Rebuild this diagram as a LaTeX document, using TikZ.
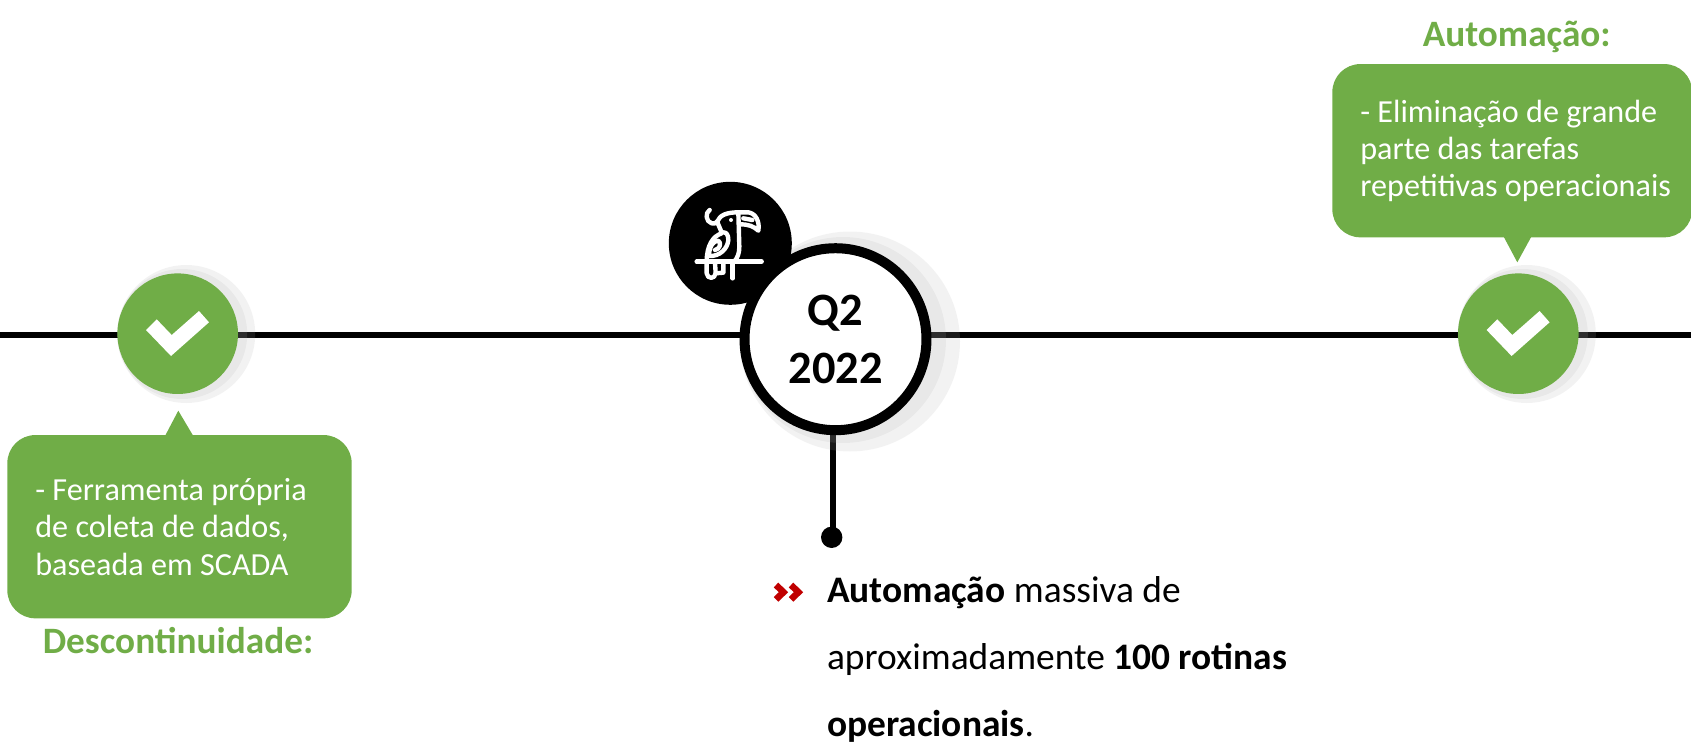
\documentclass[tikz,border=0pt]{standalone}
\usepackage{fontspec}
\setmainfont{Carlito}
\definecolor{ckgreen}{HTML}{70AD47}
\definecolor{ckred}{HTML}{C00000}
\begin{document}
\begin{tikzpicture}[x=0.02cm,y=-0.02cm]
	\tikzset{
		shadowdisc/.style={fill=black!33, fill opacity=0.15, draw=none},
		checknode/.style={circle, fill=ckgreen, minimum size=2.412cm, inner sep=0pt},
		bubble/.style={rectangle, rounded corners=0.56cm, fill=ckgreen, inner sep=0pt},
		bubbletext/.style={anchor=west, inner sep=0pt, text=white, align=left, font=\fontsize{18.3}{21.3}\selectfont},
		head/.style={anchor=base, inner sep=0pt, text=ckgreen, font=\fontsize{21.2}{25}\selectfont\bfseries},
		bodytext/.style={anchor=base west, inner sep=0pt, font=\fontsize{21.3}{25}\selectfont},
		parrot/.style={draw=white, line width=2.5pt, line cap=round, line join=round},
	}
	
	%% TIMELINE
	\coordinate (LineL) at (0,335);
	\coordinate (LineR) at (1691,335);
	\coordinate (QC) at (833.3,400);
	\node[circle, fill=black, minimum size=0.428cm, inner sep=0pt] (Dot) at (831.7,537.3) {};
	\draw[line width=0.13cm] (LineL) -- (LineR);
	\draw[line width=0.12cm] (QC) -- (QC |- Dot);
	
	%% SHADOWS
	\foreach \xx in {177.7,1518.3} {
		\fill[shadowdisc] (\xx+8.5,334) circle (69);
		\fill[shadowdisc] (\xx+4.5,334) circle (65);
	}
	\fill[shadowdisc] (850,341.5) circle (110);
	\fill[shadowdisc] (843,340) circle (103);
	
	%% ICON
	\node[circle, fill=black, minimum size=2.46cm, inner sep=0pt] (Icon) at (730.3,243.3) {};
	\begin{scope}[shift={(695,200)}, x=0.00667cm, y=-0.00667cm]
		\draw[parrot] (5,185) -- (200,185);
		\draw[parrot] (113,185) -- (113,235);
		\draw[parrot] (44,30) .. controls (30,38) and (32,65) .. (50,70) .. controls (58,72) and (63,70) .. (67,64);
		\draw[parrot] (67,64) .. controls (75,45) and (95,37) .. (130,37) -- (160,37) .. controls (182,40) and (195,65) .. (190,92) .. controls (175,78) and (160,73) .. (135,73);
		\draw[parrot] (145,55) -- (172,60);
		\draw[parrot] (130,37) -- (133,140) .. controls (133,160) and (128,172) .. (118,185);
		\draw[parrot] (67,64) .. controls (70,78) and (78,88) .. (80,100) .. controls (55,108) and (35,135) .. (35,185) -- (35,220) .. controls (37,238) and (60,238) .. (62,220) -- (60,187);
		\draw[parrot] (85,97) .. controls (95,97) and (100,105) .. (100,120) .. controls (98,145) and (75,170) .. (42,168);
		\draw[parrot] (42,168) .. controls (42,140) and (55,122) .. (70,122) .. controls (80,128) and (75,148) .. (60,150);
		\draw[parrot] (62,220) -- (85,218) -- (85,187);
		\fill[white] (108,60) circle (6);
	\end{scope}
	
	%% Q2 NODE
	\node[circle, draw=black, line width=0.2cm, fill=white, minimum size=3.64cm, inner sep=0pt, align=center, font=\fontsize{26.4}{32.8}\selectfont\bfseries] (Q) at (835.5,339.2) {Q2\\2022};
	
	%% CHECKS
	\foreach \name/\xx in {CheckA/177.7,CheckB/1518.3} {
		\node[checknode] (\name) at (\xx,333.7) {};
		\fill[white, shift={(\name.center)}] (-31.7,-3.7) -- (-21,-14.4) -- (-6,1.3) -- (21.3,-22.7) -- (31.3,-11.4) -- (-6.7,22.3) -- cycle;
	}
	
	%% BUBBLES
	\node[bubble, minimum width=6.888cm, minimum height=3.666cm] (BubA) at (179.5,526.7) {};
	\fill[ckgreen] (165,436) -- (178.3,410.7) -- (193.3,436) -- cycle;
	\node[bubbletext] (BubAText) at (35,526.7) {- Ferramenta própria\\de coleta de dados,\\baseada em SCADA};
	\node[head] (HeadA) at (178,653) {Descontinuidade:};
	
	\node[bubble, minimum width=7.2cm, minimum height=3.466cm] (BubB) at (1512.3,150.7) {};
	\fill[ckgreen] (1503.3,236) -- (1517.3,262.3) -- (1531.7,236) -- cycle;
	\node[bubbletext] (BubBText) at (1360,151) {- Eliminação de grande\\parte das tarefas\\repetitivas operacionais};
	\node[head] (HeadB) at (1516.7,46.7) {Automação:};
	
	%% TEXT
	\foreach \yy in {0,1} {
		\draw[ckred, line width=0.13cm, shift={(\yy*15,0)}] (776,585) -- (783.5,592.2) -- (776,599.4);
	}
	\node[bodytext] (TextA) at (826.7,602.7) {\textbf{Automação} massiva de};
	\node[bodytext] (TextB) at (826.7,669.3) {aproximadamente \textbf{100 rotinas}};
	\node[bodytext] (TextC) at (826.7,736.7) {\textbf{operacionais}.};
	
	\pgfresetboundingbox
	\useasboundingbox (0,0) rectangle (1691,750);
\end{tikzpicture}
\end{document}
